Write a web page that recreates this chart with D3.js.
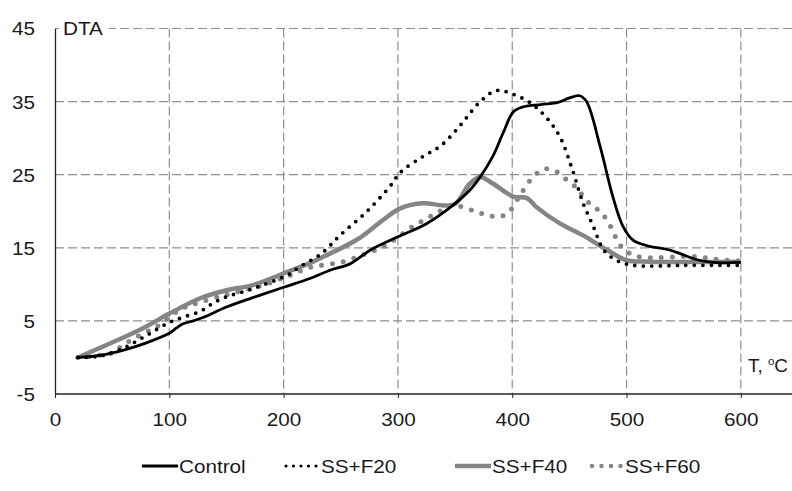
<!DOCTYPE html>
<html>
<head>
<meta charset="utf-8">
<script src="https://cdn.jsdelivr.net/npm/d3@7"></script>
<style>
  body { margin: 0; background: #fff; }
  svg { display: block; font-family: "Liberation Sans", Arial, sans-serif; }
</style>
</head>
<body>
<script>
// tick values
const tempTicks = [0, 100, 200, 300, 400, 500, 600];
const dtaTicks = [-5, 5, 15, 25, 35, 45];

// Control
const controlT = [20, 40, 60, 80, 100, 106, 112, 121, 130, 150, 179, 200, 223, 240, 258, 276, 300, 325, 348, 363, 372, 383, 392, 401, 410, 425, 440, 450, 459, 465, 477, 488, 497, 506, 520, 535, 547, 561, 575, 600];
const controlDTA = [0, 0.3, 1.0, 2.0, 3.3, 4.0, 4.6, 5.0, 5.5, 6.9, 8.5, 9.6, 10.8, 11.9, 12.8, 14.7, 16.5, 18.3, 20.8, 22.9, 24.7, 27.5, 30.7, 33.6, 34.3, 34.6, 34.9, 35.5, 35.8, 35.0, 28.8, 22.0, 17.9, 16.0, 15.2, 14.8, 14.2, 13.4, 13.0, 13.0];

// SS+F20
const f20T = [20, 40, 60, 80, 100, 114, 127, 138, 150, 165, 180, 205, 214, 233, 250, 273, 293, 302, 322, 337, 351, 360, 372, 386, 401, 417, 430, 442, 453, 462, 471, 480, 491, 506, 550, 600];
const f20DTA = [0, 0.2, 1.3, 3.0, 4.8, 5.6, 6.3, 7.4, 8.3, 9.0, 9.8, 11.4, 12.4, 14.2, 16.8, 20.0, 23.4, 25.3, 27.5, 28.9, 31.1, 32.8, 35.0, 36.5, 36.0, 34.7, 32.8, 30.1, 25.5, 21.1, 17.9, 14.7, 13.3, 12.6, 12.6, 12.6];

// SS+F40
const f40T = [20, 48, 77, 100, 127, 150, 173, 205, 223, 235, 264, 287, 302, 322, 340, 350, 363, 372, 383, 401, 413, 421, 442, 462, 483, 500, 520, 600];
const f40DTA = [0, 1.9, 4.0, 6.0, 8.1, 9.2, 9.9, 11.8, 12.9, 13.8, 16.1, 18.8, 20.4, 21.1, 20.8, 21.0, 23.8, 24.7, 23.8, 22.0, 21.8, 20.6, 18.3, 16.7, 14.7, 13.3, 13.1, 13.1];

// SS+F60
const f60T = [20, 39, 50, 58, 67, 80, 89, 109, 120, 150, 180, 205, 223, 252, 272, 290, 313, 331, 348, 360, 369, 378, 388, 397, 408, 420, 429, 438, 446, 455, 466, 475, 483, 491, 497, 510, 560, 580, 600];
const f60DTA = [0, 0.3, 0.6, 1.5, 2.4, 3.5, 4.2, 6.5, 7.2, 8.6, 9.8, 11.2, 12.3, 13.1, 14.2, 15.4, 17.9, 19.5, 20.8, 20.4, 19.9, 19.5, 19.2, 19.9, 22.5, 25.0, 25.8, 25.5, 24.5, 23.4, 21.3, 20.2, 18.8, 16.3, 14.9, 13.8, 13.8, 13.4, 13.2];

const seriesNames = ["Control", "SS+F20", "SS+F40", "SS+F60"];

const W = 792, H = 491;
const GREY = "#858585";
const SX = 1.15; // text in the picture is a bit stretched sideways

let svg = d3.select("body").append("svg")
    .attr("width", W)
    .attr("height", H);

svg.append("rect").attr("width", W).attr("height", H).attr("fill", "#fff");

let x = d3.scaleLinear().domain([0, 650]).range([55, 798]);
let y = d3.scaleLinear().domain([-5, 45]).range([394, 28.5]);

function label(g, px, py, str, anchor, size) {
    return g.append("text")
        .attr("transform", `translate(${px},${py}) scale(${SX},1)`)
        .attr("text-anchor", anchor)
        .style("font-size", (size || 18) + "px")
        .attr("fill", "#1a1a1a")
        .text(str);
}

// grid
svg.append("g").selectAll("line")
    .data(dtaTicks.filter(d => d > -5))
    .enter().append("line")
    .attr("x1", x(0)).attr("x2", W)
    .attr("y1", d => y(d)).attr("y2", d => y(d))
    .attr("stroke", "#8f8f8f")
    .attr("stroke-width", 1.2)
    .attr("stroke-dasharray", "9,4");

svg.append("g").selectAll("line")
    .data(tempTicks.filter(d => d > 0))
    .enter().append("line")
    .attr("x1", d => x(d)).attr("x2", d => x(d))
    .attr("y1", y(45)).attr("y2", y(-5))
    .attr("stroke", "#8f8f8f")
    .attr("stroke-width", 1.2)
    .attr("stroke-dasharray", "9,4");

// axes
let xAxis = d3.axisBottom(x).tickValues(tempTicks).tickSize(4).tickSizeOuter(0).tickFormat(d => String(d));
let gx = svg.append("g")
    .attr("transform", `translate(0,${y(-5)})`)
    .call(xAxis);
gx.select(".domain").attr("d", `M${x(0)},0H${W}`).attr("stroke", "#222").attr("stroke-width", 1.3);
gx.selectAll(".tick line").attr("stroke", "#222");
gx.selectAll(".tick text")
    .attr("y", 0).attr("dy", null)
    .attr("transform", `translate(0,32) scale(${SX},1)`)
    .style("font-size", "18px")
    .attr("fill", "#1a1a1a");

let yAxis = d3.axisLeft(y).tickValues(dtaTicks).tickSize(0).tickSizeOuter(0).tickFormat(d => String(d));
let gy = svg.append("g")
    .attr("transform", `translate(${x(0)},0)`)
    .call(yAxis);
gy.select(".domain").attr("stroke", "#222").attr("stroke-width", 1.3);
gy.selectAll(".tick text")
    .attr("x", 0).attr("dy", "0.36em")
    .attr("transform", `translate(-20,0) scale(${SX},1)`)
    .style("font-size", "18px")
    .attr("fill", "#1a1a1a");

// curves
let line = d3.line()
    .x(d => x(d[0]))
    .y(d => y(d[1]))
    .curve(d3.curveCatmullRom.alpha(0.5));

const zip = (a, b) => a.map((v, i) => [v, b[i]]);

svg.append("path").datum(zip(f40T, f40DTA))
    .attr("d", line).attr("fill", "none")
    .attr("stroke", GREY).attr("stroke-width", 4.5);

svg.append("path").datum(zip(f60T, f60DTA))
    .attr("d", line).attr("fill", "none")
    .attr("stroke", GREY).attr("stroke-width", 5)
    .attr("stroke-linecap", "round")
    .attr("stroke-dasharray", "0,11");

svg.append("path").datum(zip(f20T, f20DTA))
    .attr("d", line).attr("fill", "none")
    .attr("stroke", "#000").attr("stroke-width", 3.8)
    .attr("stroke-linecap", "round")
    .attr("stroke-dasharray", "0,8.5");

svg.append("path").datum(zip(controlT, controlDTA))
    .attr("d", line).attr("fill", "none")
    .attr("stroke", "#000").attr("stroke-width", 2.8);

// axis titles
svg.append("rect")
    .attr("x", 59).attr("y", 18).attr("width", 50).attr("height", 20)
    .attr("fill", "#fff");
label(svg, 63, 35, "DTA", "start");

let tl = svg.append("text")
    .attr("transform", `translate(748,372) scale(1.05,1)`)
    .style("font-size", "18px")
    .attr("fill", "#1a1a1a");
tl.append("tspan").text("T, ");
tl.append("tspan").attr("dy", -7).style("font-size", "11px").text("o");
tl.append("tspan").attr("dy", 7).text("C");

// legend
const legX = [142, 284, 455, 588];
const legY = 466;
let leg = svg.append("g");
seriesNames.forEach((name, i) => {
    let lx = legX[i];
    let s = leg.append("line")
        .attr("x1", lx).attr("x2", lx + 36)
        .attr("y1", legY).attr("y2", legY)
        .attr("fill", "none");
    if (i === 0) s.attr("stroke", "#000").attr("stroke-width", 2.8);
    if (i === 1) s.attr("x1", lx + 2).attr("stroke", "#000").attr("stroke-width", 3.2)
        .attr("stroke-linecap", "round").attr("stroke-dasharray", "0,7.5");
    if (i === 2) s.attr("stroke", GREY).attr("stroke-width", 4.5);
    if (i === 3) s.attr("x1", lx + 4).attr("stroke", GREY).attr("stroke-width", 4.5)
        .attr("stroke-linecap", "round").attr("stroke-dasharray", "0,9.5");
    label(leg, lx + 37, legY + 6.5, name, "start");
});
</script>
</body>
</html>
